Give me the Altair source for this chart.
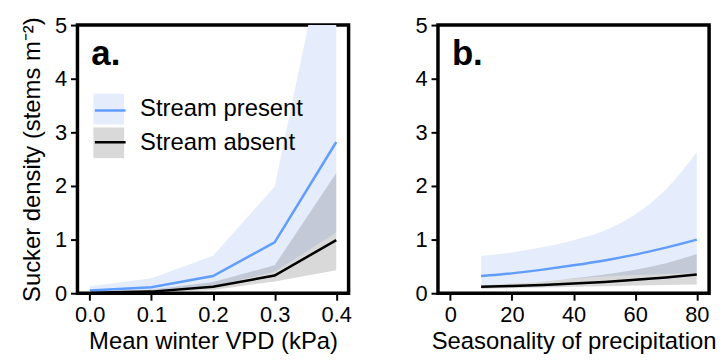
import altair as alt
import pandas as pd

GROUPS = ["Stream present", "Stream absent"]
LINE_KEYS = ["present", "absent"]

# Panel a: mean winter VPD
vpd = [0.0, 0.1, 0.2, 0.3, 0.4]
vpd_present_mean = [0.05, 0.11, 0.32, 0.95, 2.82]
vpd_present_lo = [0.02, 0.04, 0.13, 0.40, 1.13]
vpd_present_hi = [0.13, 0.28, 0.70, 1.99, 7.5]
vpd_absent_mean = [0.01, 0.03, 0.12, 0.33, 0.99]
vpd_absent_lo = [0.0, 0.01, 0.06, 0.22, 0.43]
vpd_absent_hi = [0.03, 0.07, 0.21, 0.52, 2.24]

# Panel b: seasonality of precipitation
seas = [10, 20, 30, 40, 50, 60, 70, 80]
seas_present_mean = [0.32, 0.37, 0.44, 0.52, 0.61, 0.72, 0.85, 1.00]
seas_present_lo = [0.15, 0.18, 0.225, 0.27, 0.31, 0.34, 0.36, 0.38]
seas_present_hi = [0.70, 0.76, 0.86, 0.99, 1.17, 1.47, 1.94, 2.63]
seas_absent_mean = [0.12, 0.135, 0.155, 0.18, 0.21, 0.25, 0.295, 0.35]
seas_absent_lo = [0.08, 0.095, 0.105, 0.12, 0.13, 0.145, 0.155, 0.165]
seas_absent_hi = [0.15, 0.18, 0.22, 0.28, 0.35, 0.44, 0.56, 0.73]

panel_labels = ["a.", "b."]

FILL = ["#E5EDFC", "rgba(0,0,0,0.15)"]
LINE = ["#619CFF", "#000000"]
FONT = "Liberation Sans"


def frame(xs, pm, plo, phi, am, alo, ahi):
    rows = []
    for k, (m, lo, hi) in enumerate([(pm, plo, phi), (am, alo, ahi)]):
        for i, x in enumerate(xs):
            rows.append({"x": x, "band": GROUPS[k], "line": LINE_KEYS[k],
                         "mean": m[i], "lo": lo[i], "hi": hi[i]})
    return pd.DataFrame(rows)


def panel(df, xdom, xticks, xfmt, xtitle, ytitle, label, legend, interp):
    xenc = alt.X("x:Q", scale=alt.Scale(domain=xdom, nice=False, zero=False),
                 axis=alt.Axis(values=xticks, format=xfmt, title=xtitle))
    yaxis = alt.Axis(values=[0, 1, 2, 3, 4, 5], title=ytitle if ytitle else None)
    yscale = alt.Scale(domain=[0, 5], nice=False)
    if legend:
        fill_leg = alt.Legend(orient="none", legendX=16, legendY=69, title=None,
                              symbolType="square", symbolSize=961, symbolStrokeWidth=0,
                              labelFontSize=24, labelOffset=16, padding=0, rowPadding=3,
                              labelLimit=400, labelColor="black", labelFont=FONT)
        stroke_leg = alt.Legend(orient="none", legendX=16, legendY=69, title=None,
                                symbolType="stroke", symbolSize=961, symbolStrokeWidth=2.5,
                                labelFontSize=24, labelOffset=16, padding=0, rowPadding=3,
                                labelLimit=400, labelOpacity=0, labelFont=FONT)
    else:
        fill_leg = None
        stroke_leg = None
    fill = alt.Fill("band:N", scale=alt.Scale(domain=GROUPS, range=FILL), legend=fill_leg)
    stroke = alt.Stroke("line:N", scale=alt.Scale(domain=LINE_KEYS, range=LINE), legend=stroke_leg)

    base = alt.Chart(df)
    band_p = base.transform_filter(alt.datum.band == GROUPS[0]).mark_area(clip=True, interpolate=interp).encode(
        x=xenc, y=alt.Y("lo:Q", scale=yscale, axis=yaxis), y2="hi:Q", fill=fill)
    band_a = base.transform_filter(alt.datum.band == GROUPS[1]).mark_area(clip=True, interpolate=interp).encode(
        x=xenc, y=alt.Y("lo:Q", scale=yscale, axis=yaxis), y2="hi:Q", fill=fill)
    line_p = base.transform_filter(alt.datum.line == LINE_KEYS[0]).mark_line(
        clip=True, strokeWidth=2.5, interpolate=interp).encode(
        x=xenc, y=alt.Y("mean:Q", scale=yscale, axis=yaxis), stroke=stroke)
    line_a = base.transform_filter(alt.datum.line == LINE_KEYS[1]).mark_line(
        clip=True, strokeWidth=2.5, interpolate=interp).encode(
        x=xenc, y=alt.Y("mean:Q", scale=yscale, axis=yaxis), stroke=stroke)
    tag = alt.Chart(alt.Data(values=[{"label": label}])).mark_text(
        align="left", baseline="alphabetic", fontSize=35, fontWeight="bold", font=FONT, color="black"
    ).encode(text="label:N", x=alt.value(14), y=alt.value(40))
    return alt.layer(band_p, band_a, line_p, line_a, tag).properties(width=273, height=270)


df_a = frame(vpd, vpd_present_mean, vpd_present_lo, vpd_present_hi,
             vpd_absent_mean, vpd_absent_lo, vpd_absent_hi)
df_b = frame(seas, seas_present_mean, seas_present_lo, seas_present_hi,
             seas_absent_mean, seas_absent_lo, seas_absent_hi)

pa = panel(df_a, [-0.02, 0.42], [0.0, 0.1, 0.2, 0.3, 0.4], ".1f", "Mean winter VPD (kPa)",
           "Sucker density (stems m⁻²)", panel_labels[0], True, "linear")
pb = panel(df_b, [-4, 84], [0, 20, 40, 60, 80], "d", "Seasonality of precipitation",
           None, panel_labels[1], False, "monotone")

chart = alt.hconcat(pa, pb, spacing=60).resolve_scale(
    fill="independent", stroke="independent", x="independent", y="independent"
).resolve_legend(fill="independent", stroke="independent").properties(
    padding={"left": 19, "top": 11, "right": 5, "bottom": 5}
).configure(font=FONT).configure_view(
    stroke="black", strokeWidth=3.5
).configure_axis(
    domain=False, grid=False, ticks=True, tickColor="black", tickWidth=2, tickSize=7,
    labelFontSize=22, labelColor="black", labelFont=FONT, labelPadding=4,
    titleFontSize=24, titleFontWeight="normal", titleColor="black", titleFont=FONT,
).configure_axisX(titlePadding=5).configure_axisY(titlePadding=10)

chart.save("out.html", embed_options={"renderer": "svg", "actions": False})
